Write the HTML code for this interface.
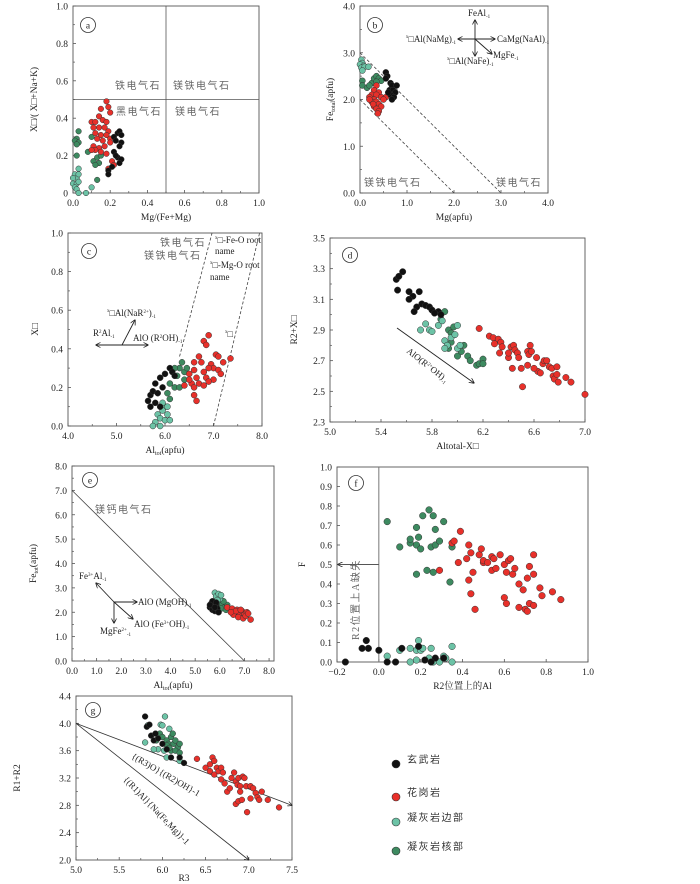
<!DOCTYPE html>
<html><head><meta charset="utf-8"><style>
html,body{margin:0;padding:0;background:#fff;}
svg{display:block;font-family:"Liberation Serif","Noto Serif CJK SC",serif;}
.tk{font-size:9.5px;fill:#222;}
.cn{font-family:"Liberation Serif","Noto Sans CJK SC",sans-serif;font-size:10px;fill:#666;letter-spacing:1.5px;}
.an{font-size:9px;fill:#222;}
</style></head><body>
<svg id="fig" width="700" height="884" viewBox="0 0 700 884" xmlns="http://www.w3.org/2000/svg">
<defs><marker id="ah" viewBox="0 0 10 10" refX="9" refY="5" markerWidth="6" markerHeight="6" orient="auto-start-reverse"><path d="M0,0 L10,5 L0,10" fill="none" stroke="#222" stroke-width="1.5"/></marker></defs>
</svg>
<script>
// ---------- Panel a data: [Mg/(Fe+Mg), X/(X+Na+K)]
const aBasalt=[[0.22,0.3],[0.24,0.32],[0.25,0.33],[0.26,0.31],[0.23,0.28],[0.26,0.27],[0.25,0.25],[0.22,0.22],[0.24,0.19],[0.26,0.18],[0.25,0.16],[0.19,0.12],[0.19,0.10],[0.21,0.14],[0.23,0.20]];
const aGranite=[[0.18,0.49],[0.19,0.46],[0.2,0.43],[0.15,0.45],[0.14,0.41],[0.1,0.38],[0.12,0.38],[0.16,0.39],[0.18,0.38],[0.11,0.35],[0.14,0.35],[0.17,0.35],[0.19,0.33],[0.12,0.32],[0.15,0.31],[0.18,0.31],[0.2,0.29],[0.13,0.29],[0.16,0.28],[0.11,0.25],[0.14,0.24],[0.17,0.25],[0.12,0.23],[0.15,0.22],[0.18,0.21],[0.21,0.17],[0.22,0.15],[0.19,0.13],[0.1,0.23],[0.2,0.27]];
const aTuffRim=[[0.01,0.1],[0.02,0.08],[0.03,0.13],[0.0,0.05],[0.02,0.05],[0.03,0.06],[0.01,0.03],[0.02,0.02],[0.03,0.0],[0.07,0.0],[0.1,0.03],[0.0,0.08],[0.03,0.1]];
const aTuffCore=[[0.03,0.33],[0.02,0.29],[0.01,0.28],[0.03,0.27],[0.02,0.26],[0.02,0.2],[0.08,0.22],[0.1,0.3],[0.11,0.17],[0.13,0.19],[0.14,0.16],[0.12,0.15],[0.15,0.2],[0.13,0.07]];
const aTicks=[0,0.2,0.4,0.6,0.8,1.0];
const aXLabels=["0.0","0.2","0.4","0.6","0.8","1.0"];
const aYLabels=["0","0.2","0.4","0.6","0.8","1.0"];
// ---------- Panel b data: [Mg, Fe total]
const bBasalt=[[0.55,2.58],[0.58,2.5],[0.55,2.45],[0.65,2.35],[0.68,2.3],[0.78,2.3],[0.63,2.2],[0.7,2.2],[0.75,2.15],[0.65,2.1],[0.72,2.05],[0.68,2.0],[0.6,2.15]];
const bGranite=[[0.35,2.3],[0.3,2.2],[0.4,2.15],[0.25,2.1],[0.35,2.1],[0.2,2.05],[0.3,2.0],[0.45,2.05],[0.55,2.05],[0.5,2.0],[0.25,1.95],[0.35,1.95],[0.4,1.9],[0.3,1.85],[0.45,1.85],[0.35,1.8],[0.4,1.75],[0.38,1.7],[0.2,2.0],[0.28,1.9]];
const bTuffRim=[[0.03,2.85],[0.05,2.78],[0.0,2.75],[0.08,2.72],[0.03,2.68],[0.1,2.7],[0.18,2.7],[0.05,2.62]];
const bTuffCore=[[0.05,2.4],[0.05,2.3],[0.15,2.25],[0.25,2.35],[0.3,2.45],[0.35,2.5],[0.4,2.45],[0.45,2.4],[0.2,2.3],[0.35,2.38]];
const bTicks=[0,1,2,3,4];
const bLabels=["0.0","1.0","2.0","3.0","4.0"];
// ---------- Panel c data: [Al tot, X]
const cBasalt=[[5.7,0.1],[5.65,0.13],[5.7,0.16],[5.75,0.18],[5.85,0.17],[5.9,0.1],[5.8,0.22],[5.9,0.25],[6.0,0.27],[6.1,0.3],[6.15,0.28],[6.2,0.26],[5.95,0.2],[5.8,0.12]];
const cGranite=[[6.8,0.44],[6.9,0.47],[6.85,0.42],[7.05,0.37],[7.1,0.36],[7.35,0.35],[6.7,0.36],[6.6,0.33],[6.75,0.33],[6.95,0.32],[7.2,0.33],[7.0,0.3],[6.6,0.29],[6.8,0.28],[6.9,0.3],[7.1,0.29],[6.5,0.27],[6.65,0.25],[6.85,0.25],[7.0,0.24],[6.55,0.22],[6.7,0.22],[6.9,0.23],[6.4,0.21],[6.6,0.2],[6.8,0.21],[6.6,0.16],[6.65,0.13],[6.5,0.24],[7.15,0.27]];
const cTuffRim=[[6.0,0.1],[5.95,0.08],[6.05,0.06],[5.85,0.06],[5.9,0.04],[6.0,0.03],[5.8,0.02],[5.75,0.0],[5.9,0.0],[6.1,0.03],[6.05,0.1],[5.95,0.12]];
const cTuffCore=[[6.35,0.33],[6.3,0.3],[6.4,0.28],[6.25,0.26],[6.1,0.22],[6.2,0.2],[6.3,0.2],[6.05,0.17],[6.1,0.14],[6.4,0.24],[6.2,0.3],[6.45,0.3]];
const cXTicks=[4,5,6,7,8];
const cXLabels=["4.0","5.0","6.0","7.0","8.0"];
const cYTicks=[0,0.2,0.4,0.6,0.8,1.0];
const cYLabels=["0.0","0.2","0.4","0.6","0.8","1.0"];
// ---------- Panel d data: [Altotal-X, R2+X]
const dBasalt=[[5.52,3.23],[5.54,3.25],[5.57,3.28],[5.53,3.16],[5.62,3.15],[5.65,3.12],[5.62,3.1],[5.7,3.15],[5.72,3.07],[5.68,3.05],[5.75,3.06],[5.78,3.05],[5.8,3.03],[5.85,3.02],[5.87,3.0],[5.82,3.01],[5.66,3.02]];
const dGranite=[[6.17,2.91],[6.25,2.86],[6.28,2.85],[6.32,2.84],[6.34,2.82],[6.29,2.81],[6.35,2.79],[6.33,2.75],[6.4,2.72],[6.42,2.79],[6.44,2.8],[6.45,2.77],[6.47,2.75],[6.48,2.72],[6.43,2.65],[6.5,2.65],[6.51,2.53],[6.55,2.76],[6.56,2.74],[6.57,2.8],[6.58,2.76],[6.55,2.67],[6.62,2.72],[6.63,2.63],[6.65,2.62],[6.67,2.68],[6.68,2.7],[6.7,2.7],[6.72,2.66],[6.74,2.65],[6.75,2.6],[6.76,2.58],[6.78,2.66],[6.78,2.61],[6.79,2.56],[6.85,2.59],[6.89,2.56],[7.0,2.48],[6.4,2.75],[6.6,2.65]];
const dTuffRim=[[5.71,2.9],[5.75,2.94],[5.78,2.9],[5.8,2.89],[5.85,2.93],[5.9,2.83],[5.92,2.8],[5.95,2.85],[6.0,2.78],[6.02,2.8],[5.98,2.87],[6.0,2.93],[5.88,2.96],[5.9,2.78]];
const dTuffCore=[[5.9,3.02],[5.87,2.97],[5.93,2.9],[5.95,2.88],[5.97,2.92],[5.95,2.82],[6.05,2.8],[6.0,2.73],[6.08,2.73],[6.1,2.7],[6.15,2.67],[6.17,2.68],[6.2,2.71],[6.2,2.68],[5.93,2.78],[6.03,2.76]];
const dXTicks=[5.0,5.4,5.8,6.2,6.6,7.0];
const dXLabels=["5.0","5.4","5.8","6.2","6.6","7.0"];
const dYTicks=[2.3,2.5,2.7,2.9,3.1,3.3,3.5];
const dYLabels=["2.3","2.5","2.7","2.9","3.1","3.3","3.5"];
// ---------- Panel e data: [Al tot, Fe tot]
const eBasalt=[[5.6,2.2],[5.65,2.35],[5.7,2.1],[5.75,2.25],[5.8,2.05],[5.85,2.3],[5.9,2.15],[5.95,2.0],[5.7,2.45],[5.85,2.4],[5.6,2.3],[5.8,2.2]];
const eGranite=[[6.3,2.2],[6.5,2.15],[6.6,2.0],[6.7,2.1],[6.8,1.95],[6.9,2.05],[7.0,1.9],[7.1,2.0],[6.55,1.9],[6.75,1.8],[6.95,1.75],[7.25,1.7],[6.65,2.05],[6.85,2.1],[7.05,1.85],[6.45,2.0],[7.15,1.95]];
const eTuffRim=[[5.8,2.8],[5.85,2.65],[5.95,2.75],[6.0,2.55],[5.9,2.5],[6.05,2.7]];
const eTuffCore=[[5.9,2.5],[6.0,2.4],[6.1,2.3],[6.2,2.2],[6.3,2.3],[6.05,2.15],[6.15,2.45],[5.95,2.6],[6.25,2.1]];
const eTicks=[0,1,2,3,4,5,6,7,8];
const eLabels=["0.0","1.0","2.0","3.0","4.0","5.0","6.0","7.0","8.0"];
// ---------- Panel f data: [Al on R2, F]
const fBasalt=[[-0.16,0],[-0.08,0.07],[-0.06,0.11],[-0.05,0.07],[0.0,0.06],[0.04,0],[0.08,0],[0.11,0.07],[0.19,0.08],[0.22,0.01],[0.27,0.02],[0.25,0],[0.31,0.02]];
const fGranite=[[0.35,0.61],[0.36,0.62],[0.39,0.67],[0.38,0.51],[0.29,0.47],[0.42,0.53],[0.43,0.6],[0.44,0.56],[0.43,0.42],[0.44,0.35],[0.45,0.46],[0.46,0.27],[0.48,0.55],[0.49,0.58],[0.5,0.51],[0.5,0.52],[0.52,0.51],[0.54,0.54],[0.54,0.47],[0.55,0.53],[0.56,0.48],[0.58,0.55],[0.6,0.5],[0.61,0.46],[0.6,0.33],[0.61,0.3],[0.62,0.52],[0.63,0.53],[0.64,0.45],[0.65,0.48],[0.67,0.4],[0.67,0.28],[0.69,0.37],[0.7,0.27],[0.71,0.26],[0.71,0.43],[0.72,0.49],[0.72,0.3],[0.74,0.29],[0.74,0.45],[0.74,0.55],[0.77,0.38],[0.78,0.34],[0.83,0.36],[0.87,0.32]];
const fTuffRim=[[0.04,0.03],[0.1,0.06],[0.15,0.07],[0.15,0],[0.18,0.01],[0.18,0.06],[0.19,0.11],[0.2,0.06],[0.21,0.07],[0.24,0.02],[0.25,0.07],[0.26,0],[0.29,0],[0.31,0.03],[0.35,0.08],[0.35,0],[0.32,0.02]];
const fTuffCore=[[0.04,0.72],[0.1,0.59],[0.15,0.61],[0.15,0.63],[0.18,0.69],[0.18,0.6],[0.19,0.64],[0.2,0.58],[0.21,0.75],[0.24,0.78],[0.26,0.75],[0.27,0.68],[0.25,0.59],[0.27,0.6],[0.29,0.62],[0.31,0.72],[0.23,0.47],[0.26,0.46],[0.18,0.45],[0.34,0.41],[0.35,0.59]];
const fXTicks=[-0.2,0,0.2,0.4,0.6,0.8,1.0];
const fXLabels=["−0.2","0.0","0.2","0.4","0.6","0.8","1.0"];
const fYTicks=[0,0.1,0.2,0.3,0.4,0.5,0.6,0.7,0.8,0.9,1.0];
const fYLabels=["0.0","0.1","0.2","0.3","0.4","0.5","0.6","0.7","0.8","0.9","1.0"];
// ---------- Panel g data: [R3, R1+R2]
const gBasalt=[[5.8,4.1],[5.82,3.95],[5.85,3.98],[5.87,3.82],[5.9,3.75],[5.95,3.78],[6.0,3.7],[6.05,3.62],[6.2,3.5],[6.25,3.42],[6.1,3.5],[5.92,3.85]];
const gGranite=[[6.4,3.48],[6.5,3.35],[6.55,3.4],[6.58,3.5],[6.6,3.45],[6.55,3.3],[6.6,3.25],[6.63,3.35],[6.65,3.3],[6.68,3.35],[6.7,3.28],[6.72,3.12],[6.75,3.0],[6.78,3.05],[6.8,3.2],[6.83,3.28],[6.85,3.15],[6.87,3.1],[6.88,3.2],[6.9,3.08],[6.93,3.22],[6.95,3.2],[6.97,3.08],[6.85,2.82],[6.88,2.86],[6.92,2.88],[6.98,2.7],[7.02,3.08],[7.05,3.05],[7.08,2.98],[7.1,2.92],[7.12,2.88],[7.15,3.0],[7.02,2.9],[7.22,2.88],[7.35,2.77],[6.68,3.18],[6.9,3.0]];
const gTuffRim=[[5.8,3.72],[5.83,3.97],[5.98,3.98],[6.0,3.97],[6.03,4.1],[6.08,3.92],[6.02,3.6],[5.95,3.62],[6.05,3.5],[6.2,3.45],[5.9,3.62]];
const gTuffCore=[[5.97,3.85],[6.0,3.8],[6.05,3.75],[6.07,3.7],[6.1,3.8],[6.12,3.85],[6.13,3.7],[6.15,3.75],[6.18,3.65],[6.2,3.7],[6.1,3.6],[6.15,3.6],[6.2,3.57],[6.05,3.68],[6.08,3.64],[5.93,3.75]];
const gXTicks=[5.0,5.5,6.0,6.5,7.0,7.5];
const gXLabels=["5.0","5.5","6.0","6.5","7.0","7.5"];
const gYTicks=[2.0,2.4,2.8,3.2,3.6,4.0,4.4];
const gYLabels=["2.0","2.4","2.8","3.2","3.6","4.0","4.4"];
// legend
const legendNames=["玄武岩","花岗岩","凝灰岩边部","凝灰岩核部"];

const COL={basalt:"#111111",granite:"#e8302a",rim:"#6cc3a6",core:"#3d8a60"};
const NS="http://www.w3.org/2000/svg";
const svg=document.getElementById('fig');
function mk(tag,attrs,parent,txt){const e=document.createElementNS(NS,tag);for(const k in attrs)e.setAttribute(k,attrs[k]);if(txt!==undefined)e.textContent=txt;(parent||svg).appendChild(e);return e;}

function panel(id,o){
  const g=mk('g',{},svg);
  
  
  const X=v=>o.x0+(v-o.xmin)/(o.xmax-o.xmin)*(o.x1-o.x0);
  const Y=v=>o.y1-(v-o.ymin)/(o.ymax-o.ymin)*(o.y1-o.y0);
  const box=mk('rect',{x:o.x0,y:o.y0,width:o.x1-o.x0,height:o.y1-o.y0,fill:'none',stroke:'#555','stroke-width':0.9},g);
  
  
  o.xt.forEach((t,i)=>{const px=X(t);
    mk('line',{x1:px,x2:px,y1:o.y1,y2:o.y1-3,stroke:'#555','stroke-width':0.8},g);
    const tl=mk('text',{x:px,y:o.y1+13,'text-anchor':'middle',class:'tk'},g,o.xl[i]);
    
    
    if(i<o.xt.length-1&&o.minor){const m=X((t+o.xt[i+1])/2);mk('line',{x1:m,x2:m,y1:o.y1,y2:o.y1-2,stroke:'#555','stroke-width':0.7},g);}
  });
  o.yt.forEach((t,i)=>{const py=Y(t);
    mk('line',{x1:o.x0,x2:o.x0+3,y1:py,y2:py,stroke:'#555','stroke-width':0.8},g);
    const tl=mk('text',{x:o.x0-5,y:py+3.5,'text-anchor':'end',class:'tk'},g,o.yl[i]);
    
    
    if(i<o.yt.length-1&&o.minor){const m=Y((t+o.yt[i+1])/2);mk('line',{x1:o.x0,x2:o.x0+2,y1:m,y2:m,stroke:'#555','stroke-width':0.7},g);}
  });
  const xl=mk('text',{x:(o.x0+o.x1)/2,y:o.y1+(o.xlOff||27),'text-anchor':'middle',class:'tk','font-size':'10'},g);
  xl.innerHTML=o.xlabel;
  
  
  const yl=mk('text',{x:0,y:0,'text-anchor':'middle',class:'tk','font-size':'10',transform:`translate(${o.ylx},${(o.y0+o.y1)/2}) rotate(-90)`},g);
  yl.innerHTML=o.ylabel;
  
  
  const bc=mk('circle',{cx:o.x0+o.badge[0],cy:o.y0+o.badge[1],r:7.5,fill:'#fff',stroke:'#333','stroke-width':0.8},g);
  
  
  mk('text',{x:o.x0+o.badge[0],y:o.y0+o.badge[1]+3.5,'text-anchor':'middle',class:'tk'},g,id);
  return {g,X,Y};
}
function series(p,data,key,r,name){
  data.forEach(d=>{const c=mk('circle',{cx:p.X(d[0]),cy:p.Y(d[1]),r:r,fill:COL[key],stroke:'#333','stroke-width':0.5},p.g);
    
    });
}
function allSeries(p,b,gr,rim,core,r,id){
  series(p,core,'core',r,'point-tuff-core-'+id);
  series(p,rim,'rim',r,'point-tuff-rim-'+id);
  series(p,gr,'granite',r,'point-granite-'+id);
  series(p,b,'basalt',r,'point-basalt-'+id);
}
function line(p,a,b,attrs){return mk('line',Object.assign({x1:p.X(a[0]),y1:p.Y(a[1]),x2:p.X(b[0]),y2:p.Y(b[1]),stroke:'#444','stroke-width':0.8},attrs||{}),p.g);}
function arrow(g,x1,y1,x2,y2,both){return mk('line',{x1,y1,x2,y2,stroke:'#222','stroke-width':0.9,'marker-end':'url(#ah)','marker-start':both?'url(#ah)':''},g);}
function txt(g,x,y,html,cls,extra){const t=mk('text',Object.assign({x,y,class:cls||'an'},extra||{}),g);t.innerHTML=html;return t;}

// ---- a
const pa=panel('a',{x0:73,x1:259,y0:6,y1:193,xmin:0,xmax:1,ymin:0,ymax:1,xt:aTicks,xl:aXLabels,yt:aTicks,yl:aYLabels,minor:true,xlabel:'Mg/(Fe+Mg)',ylabel:'X□/( X□+Na+K)',ylx:37,badge:[15,19]});
line(pa,[0.5,0],[0.5,1],{stroke:'#555'});line(pa,[0,0.5],[1,0.5],{stroke:'#555'});
txt(pa.g,115,89,'铁电气石','cn');txt(pa.g,173,89,'镁铁电气石','cn');txt(pa.g,116,115,'黑电气石','cn');txt(pa.g,175,115,'镁电气石','cn');
allSeries(pa,aBasalt,aGranite,aTuffRim,aTuffCore,2.8,'a');

// ---- b
const pb=panel('b',{x0:360,x1:548,y0:6,y1:193,xmin:0,xmax:4,ymin:0,ymax:4,xt:bTicks,xl:bLabels,yt:bTicks,yl:bLabels,minor:true,xlabel:'Mg(apfu)',ylabel:'Fe<tspan font-size="6" dy="2">total</tspan><tspan dy="-2">(apfu)</tspan>',ylx:333,badge:[15,19]});
line(pb,[0,3],[3,0],{'stroke-dasharray':'3,2'});line(pb,[0,2],[2,0],{'stroke-dasharray':'3,2'});
txt(pb.g,364,186,'镁铁电气石','cn');txt(pb.g,496,186,'镁电气石','cn');
arrow(pb.g,475,39,475,20);arrow(pb.g,475,39,458,39);arrow(pb.g,475,39,495,39);arrow(pb.g,475,39,475,56);arrow(pb.g,475,39,492,54);
txt(pb.g,468,16,'FeAl<tspan font-size="5" dy="2">-1</tspan>');
txt(pb.g,456,42,'<tspan font-size="5" dy="-4">x</tspan><tspan dy="4">□Al(NaMg)</tspan><tspan font-size="5" dy="2">-1</tspan>','an',{'text-anchor':'end'});
txt(pb.g,497,42,'CaMg(NaAl)<tspan font-size="5" dy="2">-1</tspan>');
txt(pb.g,493,58,'MgFe<tspan font-size="5" dy="2">-1</tspan>');
txt(pb.g,447,64,'<tspan font-size="5" dy="-4">x</tspan><tspan dy="4">□Al(NaFe)</tspan><tspan font-size="5" dy="2">-1</tspan>');
allSeries(pb,bBasalt,bGranite,bTuffRim,bTuffCore,3,'b');

// ---- c
const pc=panel('c',{x0:68,x1:262,y0:233,y1:426,xmin:4,xmax:8,ymin:0,ymax:1,xt:cXTicks,xl:cXLabels,yt:cYTicks,yl:cYLabels,minor:true,xlabel:'Al<tspan font-size="6" dy="2">tot</tspan><tspan dy="-2">(apfu)</tspan>',ylabel:'X□',ylx:38,badge:[21,18]});
line(pc,[6.3,0.36],[6.97,1.0],{'stroke-dasharray':'3,2'});line(pc,[7.0,0],[7.95,1.0],{'stroke-dasharray':'3,2'});
txt(pc.g,160,246,'铁电气石','cn');txt(pc.g,144,259,'镁铁电气石','cn');
txt(pc.g,215,243,'<tspan font-size="5" dy="-4">x</tspan><tspan dy="4">□-Fe-O root</tspan>');txt(pc.g,215,254,'name');
txt(pc.g,210,268,'<tspan font-size="5" dy="-4">x</tspan><tspan dy="4">□-Mg-O root</tspan>');txt(pc.g,210,280,'name');
txt(pc.g,225,337,'<tspan font-size="5" dy="-4">x</tspan><tspan dy="4">□</tspan>');
arrow(pc.g,122,345,96,345,false);arrow(pc.g,122,345,148,345);arrow(pc.g,122,345,135,320);
txt(pc.g,107,316,'<tspan font-size="5" dy="-4">x</tspan><tspan dy="4">□Al(NaR</tspan><tspan font-size="5" dy="-3">2+</tspan><tspan dy="3">)</tspan><tspan font-size="5" dy="2">-1</tspan>');
txt(pc.g,93,336,'R<tspan font-size="5" dy="-3">2</tspan><tspan dy="3">Al</tspan><tspan font-size="5" dy="2">-1</tspan>');
txt(pc.g,133,341,'AlO (R<tspan font-size="5" dy="-3">2</tspan><tspan dy="3">OH)</tspan><tspan font-size="5" dy="2">-1</tspan>');
allSeries(pc,cBasalt,cGranite,cTuffRim,cTuffCore,3,'c');

// ---- d
const pd=panel('d',{x0:330,x1:585,y0:238,y1:422,xmin:5,xmax:7,ymin:2.3,ymax:3.5,xt:dXTicks,xl:dXLabels,yt:dYTicks,yl:dYLabels,minor:true,xlabel:'Altotal-X□',ylabel:'R2+X□',ylx:297,badge:[20,17]});
arrow(pd.g,397,328,474,383);
txt(pd.g,0,0,'AlO(R<tspan font-size="5" dy="-3">2+</tspan><tspan dy="3">OH)</tspan><tspan font-size="5" dy="2">-1</tspan>','an',{transform:'translate(406,352) rotate(38)'});
allSeries(pd,dBasalt,dGranite,dTuffRim,dTuffCore,3.2,'d');

// ---- e
const pe=panel('e',{x0:72,x1:274,y0:466,y1:661,xmin:0,xmax:8.2,ymin:0,ymax:8,xt:eTicks,xl:eLabels,yt:eTicks,yl:eLabels,minor:true,xlabel:'Al<tspan font-size="6" dy="2">tot</tspan><tspan dy="-2">(apfu)</tspan>',ylabel:'Fe<tspan font-size="6" dy="2">tot</tspan><tspan dy="-2">(apfu)</tspan>',ylx:36,badge:[18,14]});
line(pe,[0,7],[7,0],{stroke:'#444'});
txt(pe.g,95,513,'镁钙电气石','cn');
arrow(pe.g,114,602,96,583);arrow(pe.g,114,602,137,602);arrow(pe.g,114,602,114,623);arrow(pe.g,114,602,133,619);
txt(pe.g,79,579,'Fe<tspan font-size="5" dy="-3">3+</tspan><tspan dy="3">Al</tspan><tspan font-size="5" dy="2">-1</tspan>');
txt(pe.g,138,605,'AlO (MgOH)<tspan font-size="5" dy="2">-1</tspan>');
txt(pe.g,134,627,'AlO (Fe<tspan font-size="5" dy="-3">3+</tspan><tspan dy="3">OH)</tspan><tspan font-size="5" dy="2">-1</tspan>');
txt(pe.g,100,634,'MgFe<tspan font-size="5" dy="-3">2+</tspan><tspan font-size="5" dy="5">-1</tspan>');
allSeries(pe,eBasalt,eGranite,eTuffRim,eTuffCore,3,'e');

// ---- f
const pf=panel('f',{x0:337,x1:588,y0:467,y1:662,xmin:-0.2,xmax:1.0,ymin:0,ymax:1,xt:fXTicks,xl:fXLabels,yt:fYTicks,yl:fYLabels,minor:false,xlabel:'R2位置上的Al',ylabel:'F',ylx:305,badge:[19,16]});
line(pf,[0,0],[0,1],{stroke:'#777','stroke-width':1});
mk('line',{x1:pf.X(0),y1:pf.Y(0.5),x2:pf.X(-0.2)+1,y2:pf.Y(0.5),stroke:'#555','stroke-width':0.9,'marker-end':'url(#ah)'},pf.g);
const fNote=txt(pf.g,0,0,'R2位置上A缺失','cn',{transform:'translate(359,640) rotate(-90)','font-size':'9','letter-spacing':'0'});


allSeries(pf,fBasalt,fGranite,fTuffRim,fTuffCore,3.3,'f');

// ---- g
const pg=panel('g',{x0:76,x1:292,y0:696,y1:860,xmin:5,xmax:7.5,ymin:2.0,ymax:4.4,xt:gXTicks,xl:gXLabels,yt:gYTicks,yl:gYLabels,minor:true,xlabel:'R3',xlOff:21,ylabel:'R1+R2',ylx:20,badge:[17,14]});
mk('line',{x1:pg.X(5),y1:pg.Y(4),x2:pg.X(7.5),y2:pg.Y(2.8),stroke:'#333','stroke-width':0.8,'marker-end':'url(#ah)'},pg.g);
mk('line',{x1:pg.X(5),y1:pg.Y(4),x2:pg.X(7),y2:pg.Y(2.0),stroke:'#333','stroke-width':0.8,'marker-end':'url(#ah)'},pg.g);
txt(pg.g,0,0,'{(R3)O}{(R2)OH}-1','an',{transform:'translate(131,758) rotate(30)'});
txt(pg.g,0,0,'{(R1)Al}{Na(Fe,Mg)}-1','an',{transform:'translate(123,780) rotate(46)'});
allSeries(pg,gBasalt,gGranite,gTuffRim,gTuffCore,2.9,'g');

// ---- legend
const lg=mk('g',{},svg);


const lgKeys=['basalt','granite','rim','core'];
const lgY=[764,797,822,851];
legendNames.forEach((n,i)=>{
  const c=mk('circle',{cx:396,cy:lgY[i],r:4,fill:COL[lgKeys[i]],stroke:'#333','stroke-width':0.6},lg);
  
  
  const t=mk('text',{x:407,y:lgY[i]-1,class:'cn',style:'fill:#333;font-size:10px'},lg,n);
  
  
});
</script>
</body></html>
